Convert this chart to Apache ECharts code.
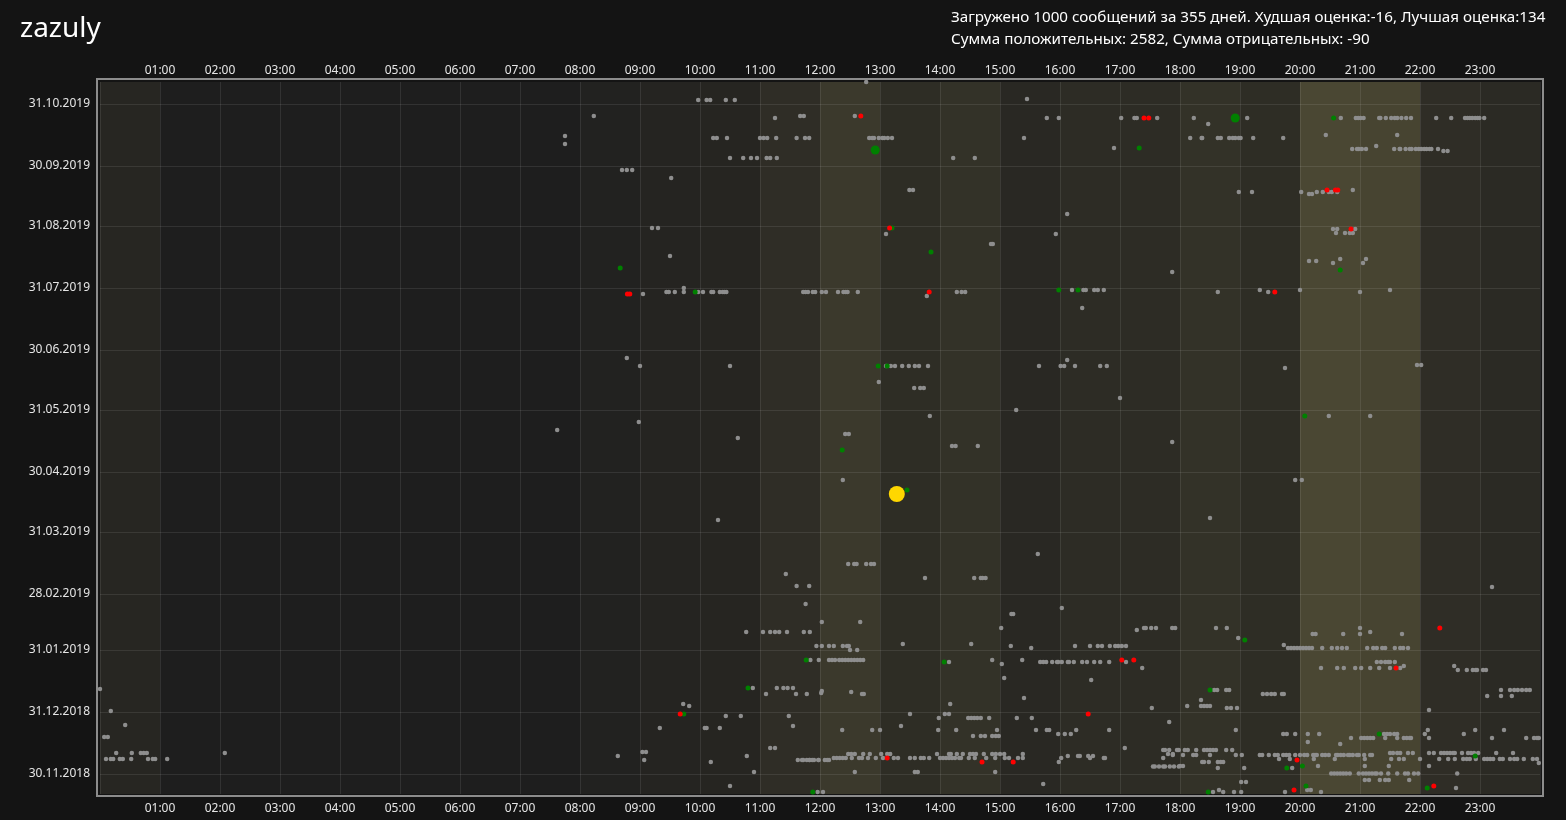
<!DOCTYPE html>
<html>
<head>
<meta charset="utf-8">
<script src="https://cdn.jsdelivr.net/npm/echarts@6/dist/echarts.min.js"></script>
<style>
html,body{margin:0;padding:0;background:#141414;}
#chart{width:1566px;height:820px;}
</style>
</head>
<body>
<div id="chart"></div>
<script>
// ---- data ----
const titleText = 'zazuly';
const infoLine1 = 'Загружено 1000 сообщений за 355 дней. Худшая оценка:-16, Лучшая оценка:134';
const infoLine2 = 'Сумма положительных: 2582, Сумма отрицательных: -90';

// y tick labels (month ends); y values are days after 30.11.2018
const dateTicks = ['30.11.2018','31.12.2018','31.01.2019','28.02.2019','31.03.2019','30.04.2019',
  '31.05.2019','30.06.2019','31.07.2019','31.08.2019','30.09.2019','31.10.2019'];
const dayMin = -10, dayMax = 346;

// hour-of-day activity shading (alpha per hour 0..23)
const hourShade = [0.045,0,0,0,0,0,0,0.005,0.02,0.03,0.04,0.08,0.135,0.075,0.10,0.05,
  0.065,0.065,0.10,0.075,0.2,0.19,0.08,0.06];

// grey messages: [day, hour, hour, ...]
const greyRows = [
 [346,12.77],
 [337,9.97,10.11,10.17,10.43,10.58],[337.5,15.45],
 [329,8.23,11.67,11.73,12.58],[328,11.25,15.78,15.98,17.02,17.24,17.28,17.62,18.23,19.12],
 [328,20.68,20.93,20.97,21.01,21.06,21.32,21.34,21.43,21.52,21.58,21.62,21.69,21.77,21.85,22.27,22.52,22.75,22.79,22.83,22.87,22.92,22.96,22.99,23.07],
 [325,18.47],
 [319,7.75],[315,7.75],
 [318,10.22,10.28,10.45,11.0,11.06,11.12,11.27,11.61,11.75,11.82,12.82,12.87,12.9,12.98,13.04,13.07,13.13,13.2,15.4],
 [318,18.17,18.36,18.37,18.63,18.68,18.82,18.88,18.92,18.98,19.01,19.22,19.72],
 [319.5,20.43,21.62],[313,16.9],[314,21.27],
 [312.5,20.87,20.95,20.98,21.03,21.1,21.57,21.66,21.67,21.76,21.83,21.86,21.93,21.98,22.02,22.07,22.11,22.16,22.19,22.3],
 [311.5,22.39,22.46],
 [308,10.5,10.72,10.85,10.95,11.11,11.17,11.28,14.22,14.58],
 [302,8.7,8.78,8.87],[298,9.52],[292,13.49,13.55,20.88],
 [291,18.98,19.2,20.02,20.28,20.38,20.48,20.53,20.62],[290,20.15,20.2],
 [280,16.12],
 [273,9.2,9.3],[272.5,20.55,20.62,20.92],[270,13.1,15.93],[270.5,20.6,20.75,20.83,20.88],
 [265,14.85,14.88],[259,9.5],[257.5,20.67,21.1],[256.5,20.15,20.27],[255.5,20.55,21.05],[251,17.87],
 [243,9.73],[240,9.05],
 [241,9.44,9.48,9.58,9.73,9.97,10.05,10.19,10.22,10.33,10.38,10.41,10.44,11.72,11.76,11.8,11.88,11.92,12.03,12.1,12.3,12.39,12.43,12.46,12.63,14.28,14.36,14.42,18.63,19.47,21.0],
 [242,16.2,16.39,16.43,16.57,16.63,16.73,19.33,20.0,21.5],
 [239,13.78],[233,16.37],
 [208,8.78],[207,16.12],
 [204,9.0,10.5,13.1,13.18,13.25,13.37,13.48,13.58,13.65,13.8,15.65,16.01,16.07,16.25,16.67,16.78],
 [204.5,21.95,22.02],[203,19.75],
 [196,12.98],[193,13.57,13.67,13.73],[188,17.0],[182,15.27],[179,13.83,20.48,21.17],
 [176,8.98],[172,7.62],[170,12.42,12.48],[168,10.63],[166,17.87],[164,14.2,14.26,14.63],
 [147,12.38,19.92,20.03],[128,18.5],[127,10.3],[110,15.63],
 [105,12.47,12.57,12.61,12.77,12.85,12.9],
 [100,11.43],[98,13.75,14.57,14.68,14.71,14.76],[94,11.61,11.82],[93.5,23.2],
 [85,11.76],[83,16.03],[80,15.19,15.22],[76,12.03,12.67],
 [73,15.02,17.4,17.43,17.52,17.6,17.87,17.92,18.6,18.78,21.0],[72,17.28],
 [71,10.77,11.05,11.17,11.25,11.32,11.45,11.73,11.83,21.17],
 [70,20.21,20.26,20.72,21.0,21.7],[68,18.97],
 [65,13.38,14.52],[64.5,19.73],
 [64,11.94,12.03,12.15,12.23,12.38,12.45,12.48,15.18,16.25,16.5,16.63,16.7,16.83,16.92,16.97,17.03,17.1],
 [63,15.52,19.8,19.85,19.9,19.95,20.0,20.05,20.1,20.15,20.2,20.37,20.53,20.62,20.7,20.78,21.12,21.22,21.28,21.37,21.42,21.58,21.67,21.72,21.8],
 [62,12.5,12.62],
 [57,11.84,11.98,12.15,12.2,12.25,12.32,12.37,12.42,12.47,12.52,12.57,12.62,12.67,12.72,14.87,15.37],
 [56,14.15,15.67,15.72,15.77,15.87,15.95,15.97,16.03,16.13,16.15,16.23,16.37,16.45,16.57,16.67,16.82,17.1,21.28,21.35,21.42,21.47,21.5,21.58],
 [55,15.03],[54,21.73,22.57],
 [53,17.37,20.35,20.62,20.73,20.92,21.02,21.17,21.32,21.5,21.67],
 [52,22.63,22.78,22.88,22.93,22.95,23.05,23.1],
 [48,15.07],[47,16.52],
 [43,10.88,11.28,11.39,11.46,11.55],[42.5,0.0],
 [42,18.57,18.62,18.77,18.82,23.35,23.5,23.57,23.63,23.7,23.77,23.83],
 [41.5,12.03],[41,12.52],[40.5,12.02],
 [40,11.1,11.6,11.78,12.7,12.73,19.38,19.45,19.52,19.58,19.7,19.73],
 [39,23.12,23.35,23.53],[38,15.4],[37,18.35],
 [35,9.72,14.17],[34,9.82,18.12,18.35,18.4,18.45,18.5],[33,17.53,18.78,18.85,18.95],[32,22.15],[31.5,0.18],
 [30,13.5,14.08,14.15],[29,10.43,10.68,11.48],
 [28,13.98,14.47,14.52,14.57,14.62,14.68,14.82,15.28,15.53],
 [26,17.82],[24.5,0.42],[24,11.55,13.35],
 [23,9.33,10.08,10.11,10.33],
 [22,12.37,12.87,13.0,13.97,14.27,14.95,15.6,15.78,15.82,16.27,16.82,18.93,22.13,22.92,23.4],
 [20,15.97,16.08,16.18,19.72,19.78,19.92,20.13,20.32,21.4,21.45,21.5,21.57,21.62,22.08,22.73],
 [19,14.55,14.68,14.75,14.87,14.93,14.98],
 [18.5,0.07,0.13],
 [18,20.85,21.02,21.07,21.12,21.17,21.22,21.42,21.62,21.73,21.78,21.83,21.85,22.15,23.2,23.77,23.9,23.95,23.98],
 [16,20.13],[15,20.67],[13,11.17,11.25,17.08],
 [12,17.72,17.75,17.82,17.95,17.98,18.08,18.13,18.27,18.4,18.45,18.5,18.55,18.6,18.77,18.87],
 [11,9.04,9.1],
 [10.5,0.27,0.53,0.68,0.73,0.78,2.08,21.5,21.55,21.62,21.67,21.8,21.88,22.15,22.23,22.35,22.4,22.45,22.5,22.55,22.58,22.7,22.8,22.85,22.9,22.97,23.27,23.55],
 [10,12.47,12.52,12.58,12.72,12.83,13.02,13.12,13.17,13.95,14.15,14.18,14.28,14.38,14.5,14.55,14.6,14.73,14.87,14.93,15.0,15.07,15.38,17.8,17.88],
 [9.5,17.88,18.05,18.22,18.27,18.5,18.93,19.03,19.33,19.37,19.48,19.58,19.63,19.72,19.77,19.82,19.92,20.0,20.07,20.12,20.22,20.25,20.28,20.37,20.42,20.48,20.6,20.63,20.68,20.73,20.8,20.83,20.88,20.95,20.98,21.07,21.17,21.2],
 [9,8.63,10.78,16.13,16.3,16.33,16.47,16.55],
 [8,12.23,12.28,12.33,12.38,12.43,12.53,12.65,12.7,12.8,12.93,13.05,13.23,13.3,13.5,13.58,13.68,13.73,13.82,
   14.0,14.05,14.1,14.15,14.2,14.25,14.32,14.35,14.48,14.58,14.77,14.92,15.08,15.15,15.3,15.38,16.02,16.5,16.73,16.75,17.72],
 [7.5,0.1,0.18,0.22,0.33,0.38,0.52,0.8,0.88,0.92,1.12,19.65,19.83,20.23,20.58,21.08,21.52,21.65,21.73,22.0,22.32,22.47,22.58,22.72,22.78,22.83,22.93,23.07,23.12,23.17,23.22,23.33,23.38,23.5,23.57,23.62,23.73,23.88,23.95],
 [7,9.07,11.63,11.7,11.72,11.78,11.82,11.83,11.87,11.9,11.97,11.98,12.08,12.12,12.15],
 [6,10.18,15.98,18.37,18.4,18.48,18.63,18.68,18.72],[5.5,23.98],
 [4,18.0,18.05,20.3,21.08,21.48,22.15],
 [3.7,17.55,17.58,17.65,17.72,17.75,17.83,17.9,17.98],
 [3,18.63,19.07,19.87],
 [1,10.9,12.58,13.58,13.63,14.92],
 [0.3,20.52,20.57,20.62,20.67,20.72,20.77,20.83,20.98,21.05,21.1,21.15,21.2,21.25,21.28,21.35,21.47,21.62,21.75,21.8,21.9,21.97,22.62],
 [-3,21.08,21.15,21.33,21.42,21.48,21.82],[-4,19.02,19.1],[-5,15.72],[-6,10.5],[-7,22.6],
 [-8,18.65,20.12,20.18],[-9,11.96,12.05,18.55,18.72,18.9,19.02,19.75,20.35]
];
// positive-score messages: [hour, day]
const greenPoints = [[13.2,273],[13.85,261],[8.67,253],[9.92,241],[15.98,242],[20.56,328],[17.32,313],
  [20.67,252],[16.3,242],[12.97,204],[13.12,204],[12.37,162],[13.45,142],[20.08,179],
  [11.77,57],[10.8,43],[9.73,30],[11.88,-9],[14.07,56],[19.08,67],[18.5,42],[21.32,20],
  [22.92,9],[20.04,4],[19.78,3],[20.1,-6],[18.47,-9],[22.12,-7]];
// high-score messages: [hour, day]
const bigGreenPoints = [[12.92,312],[18.92,328]];
// negative-score messages: [hour, day]
const redPoints = [[12.68,329],[13.16,273],[8.79,240],[8.83,240],[13.82,241],[17.4,328],[17.48,328],
  [20.45,292],[20.59,292],[20.63,292],[20.85,272.5],[19.58,241],[9.67,30],[13.12,8],[17.03,57],
  [17.23,57],[16.47,30],[14.7,6],[15.22,6],[22.33,73],[21.6,53],[19.95,7],[19.9,-8],[22.23,-6]];
// highlighted point: [hour, day]
const highlightPoint = [[13.28,140]];

// ---- build ----
function dayOf(s){
  const p = s.split('.');
  return Math.round((Date.UTC(+p[2], +p[1]-1, +p[0]) - Date.UTC(2018,10,30)) / 86400000);
}
const tickDays = dateTicks.map(dayOf);
const tickMap = {};
tickDays.forEach((d,i)=>{ tickMap[d] = dateTicks[i]; });
const greyPoints = [];
greyRows.forEach(r => { for (let i = 1; i < r.length; i++) greyPoints.push([r[i], r[0]]); });

const bands = hourShade.map((a,h)=>[
  {xAxis:h, itemStyle:{color:'rgba(250,235,135,'+a+')'}},
  {xAxis:h+1}
]);

const FONT = 'Noto Sans';
const hourFmt = v => (v>=1 && v<=23) ? (v<10?'0':'')+v+':00' : '';
const xCommon = {
  type:'value', min:0, max:24, interval:1, z:2,
  axisLine:{show:false}, axisTick:{show:false}
};
const xLabel = {color:'#e6e6e6', fontSize:12, fontFamily:FONT, formatter:hourFmt,
    showMinLabel:true, showMaxLabel:true};

const chart = echarts.init(document.getElementById('chart'));
chart.setOption({
  backgroundColor:'#141414',
  animation:false,
  grid:{left:100, right:26, top:82, bottom:26, show:true, backgroundColor:'#1e1e1e', borderWidth:0},
  xAxis:[
    Object.assign({}, xCommon, {position:'bottom',
      axisLabel:Object.assign({margin:9}, xLabel),
      splitLine:{show:true, lineStyle:{color:'rgba(255,255,255,0.09)', width:1}}}),
    Object.assign({}, xCommon, {position:'top',
      axisLabel:Object.assign({margin:5}, xLabel),
      splitLine:{show:false}})
  ],
  yAxis:{
    type:'value', min:dayMin, max:dayMax, z:2,
    axisLine:{show:false},
    axisTick:{show:false, customValues:tickDays},
    axisLabel:{color:'#e6e6e6', fontSize:12, fontFamily:FONT, margin:10, padding:[4,0,0,0],
      customValues:tickDays, formatter:v=>tickMap[v]||''},
    splitLine:{show:true, lineStyle:{color:'rgba(255,255,255,0.09)', width:1}}
  },
  graphic:[
    {type:'text', left:20, top:15, style:{text:titleText, fill:'#ffffff', font:'28px "Noto Sans"'}},
    {type:'text', left:951, top:10, style:{text:infoLine1, fill:'#ffffff', font:'15.2px "Noto Sans"'}},
    {type:'text', left:951, top:32, style:{text:infoLine2, fill:'#ffffff', font:'15.2px "Noto Sans"'}},
    {type:'rect', shape:{x:97, y:79, width:1446, height:717}, z:10,
      style:{fill:'none', stroke:'#8c8c8c', lineWidth:2}, silent:true}
  ],
  series:[
    {type:'scatter', data:[], z:1, silent:true,
      markArea:{silent:true, data:bands}},
    {type:'scatter', data:greyPoints, symbolSize:4.5, z:3, silent:true,
      itemStyle:{color:'#8e8e8e', opacity:1}},
    {type:'scatter', data:greenPoints, symbolSize:5, z:4, silent:true,
      itemStyle:{color:'#008000', opacity:1}},
    {type:'scatter', data:redPoints, symbolSize:5, z:4, silent:true,
      itemStyle:{color:'#ff0000', opacity:1}},
    {type:'scatter', data:bigGreenPoints, symbolSize:9, z:4, silent:true,
      itemStyle:{color:'#008000', opacity:1}},
    {type:'scatter', data:highlightPoint, symbolSize:16, z:5, silent:true,
      itemStyle:{color:'#ffd700', opacity:1}}
  ]
});
</script>
</body>
</html>
